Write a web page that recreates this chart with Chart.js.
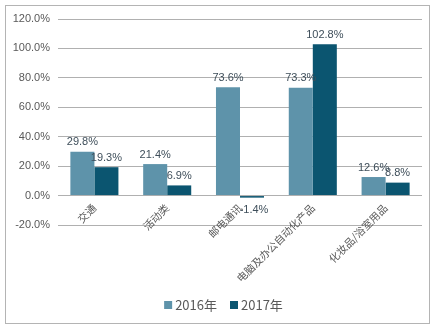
<!DOCTYPE html>
<html>
<head>
<meta charset="utf-8">
<script src="https://cdn.jsdelivr.net/npm/chart.js@4/dist/chart.umd.min.js"></script>
<style>
  html, body { margin: 0; padding: 0; background: #ffffff; }
  #wrap { width: 439px; height: 328px; position: relative; }
</style>
</head>
<body>
<div id="wrap"><canvas id="c" width="439" height="328"></canvas></div>
<script>
// Category names and growth rates (%) per year
const categories = ['交通', '活动类', '邮电通讯', '电脑及办公自动化产品', '化妆品/浴室用品'];
const growth2016 = [29.8, 21.4, 73.6, 73.3, 12.6];
const growth2017 = [19.3, 6.9, -1.4, 102.8, 8.8];
const seriesNames = ['2016年', '2017年'];
const yTicksMin = -20;
const yTicksMax = 120;
const yTicksStep = 20;

const COLOR_2016 = '#5E93AA';
const COLOR_2017 = '#0B5570';
const TEXT_GRAY = '#595959';
const LABEL_COLOR = '#3E4E5A';
const LATIN = '"Liberation Sans", Arial, sans-serif';
const CJK = '"Noto Sans CJK SC", "Liberation Sans", sans-serif';

// Outer frame around the whole chart
const framePlugin = {
  id: 'frame',
  beforeDraw(chart) {
    const ctx = chart.ctx;
    ctx.save();
    ctx.fillStyle = '#ffffff';
    ctx.fillRect(0, 0, chart.width, chart.height);
    ctx.strokeStyle = '#B4B4B4';
    ctx.lineWidth = 1;
    ctx.strokeRect(5.5, 5.5, 424, 318);
    ctx.restore();
  }
};

// Value labels above positive bars and below negative ones
const valueLabels = {
  id: 'valueLabels',
  afterDatasetsDraw(chart) {
    const ctx = chart.ctx;
    ctx.save();
    ctx.font = '11px ' + LATIN;
    ctx.fillStyle = LABEL_COLOR;
    ctx.textAlign = 'center';
    chart.data.datasets.forEach((ds, di) => {
      const meta = chart.getDatasetMeta(di);
      meta.data.forEach((el, i) => {
        const v = ds.data[i];
        const txt = v.toFixed(1) + '%';
        if (v >= 0) {
          ctx.textBaseline = 'bottom';
          ctx.fillText(txt, el.x, el.y - 4);
        } else {
          ctx.textBaseline = 'top';
          ctx.fillText(txt, el.x + 2, el.y + 7);
        }
      });
    });
    ctx.restore();
  }
};

// Series legend centred under the category labels
const bottomLegend = {
  id: 'bottomLegend',
  afterDraw(chart) {
    const ctx = chart.ctx;
    ctx.save();
    ctx.font = '13px ' + CJK;
    ctx.textBaseline = 'middle';
    const box = 8, gap = 3, between = 13;
    const items = chart.data.datasets.map(ds => ({
      text: ds.label, color: ds.backgroundColor,
      w: box + gap + ctx.measureText(ds.label).width
    }));
    const total = items.reduce((s, it) => s + it.w, 0) + between * (items.length - 1);
    let x = chart.width / 2 + 4 - total / 2;
    const y = 305;
    items.forEach(it => {
      ctx.fillStyle = it.color;
      ctx.fillRect(x, y - box / 2, box, box);
      ctx.fillStyle = TEXT_GRAY;
      ctx.textAlign = 'left';
      ctx.fillText(it.text, x + box + gap, y);
      x += it.w + between;
    });
    ctx.restore();
  }
};

new Chart(document.getElementById('c'), {
  type: 'bar',
  data: {
    labels: categories,
    datasets: [
      { label: seriesNames[0], data: growth2016, backgroundColor: COLOR_2016,
        barPercentage: 1, categoryPercentage: 0.66 },
      { label: seriesNames[1], data: growth2017, backgroundColor: COLOR_2017,
        barPercentage: 1, categoryPercentage: 0.66 }
    ]
  },
  options: {
    responsive: false,
    animation: false,
    devicePixelRatio: 1,
    layout: { padding: { left: 0, right: 17, top: 19, bottom: 103 } },
    plugins: {
      legend: { display: false },
      tooltip: { enabled: false }
    },
    scales: {
      x: {
        type: 'category',
        position: { y: 0 },
        offset: true,
        grid: { display: false, drawTicks: false },
        border: { display: false },
        ticks: {
          minRotation: 45, maxRotation: 45, autoSkip: false,
          padding: 6,
          color: TEXT_GRAY,
          font: { family: CJK, size: 10.5 }
        }
      },
      y: {
        min: yTicksMin, max: yTicksMax,
        grid: { color: '#B0B0B0', lineWidth: 1, drawTicks: false },
        border: { display: false },
        afterFit(scale) { scale.width = 58; },
        ticks: {
          stepSize: yTicksStep,
          padding: 8,
          color: TEXT_GRAY,
          font: { family: LATIN, size: 11 },
          callback: v => Number(v).toFixed(1) + '%'
        }
      }
    }
  },
  plugins: [framePlugin, valueLabels, bottomLegend]
});
</script>
</body>
</html>
